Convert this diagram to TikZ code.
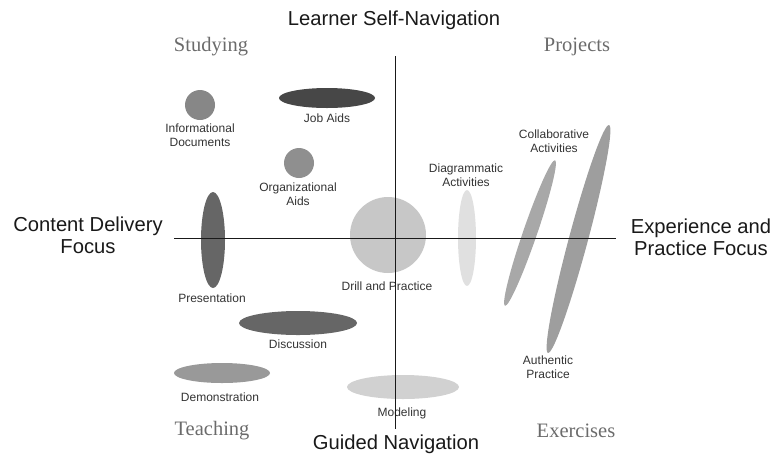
\documentclass[tikz,border=0pt]{standalone}
\usepackage{fontspec}
\setmainfont{Liberation Sans}
\newfontfamily\quadfont{Liberation Serif}

\begin{document}
\begin{tikzpicture}[x=1pt, y=-1pt,
    lbl/.style={font=\fontsize{12}{14}\selectfont, text=black!80, align=center, inner sep=0pt},
    axlbl/.style={font=\fontsize{20.2}{22}\selectfont, text=black!90, align=center, inner sep=0pt},
    quad/.style={font=\quadfont\fontsize{20.5}{22}\selectfont, text=black!58, inner sep=0pt}]
  \useasboundingbox (0,0) rectangle (781,459);
  % shapes
  \fill[black!47] (200,105) circle [radius=15pt];
  \fill[black!72] (327,98) ellipse [x radius=48pt, y radius=10pt];
  \fill[black!44] (299,163) circle [radius=15pt];
  \fill[black!60] (213,240) ellipse [x radius=12pt, y radius=48pt];
  \fill[black!22] (388,235) circle [radius=38pt];
  \fill[black!60] (298,323) ellipse [x radius=59pt, y radius=12pt];
  \fill[black!40] (222,373) ellipse [x radius=48pt, y radius=10pt];
  \fill[black!18] (403,387) ellipse [x radius=56pt, y radius=12pt];
  \fill[black!12] (467,238) ellipse [x radius=9pt, y radius=48pt];
  \fill[black!34, rotate around={71:(530,233)}] (530,233) ellipse [x radius=77pt, y radius=7pt];
  \fill[black!38, rotate around={75:(578.5,239)}] (578.5,239) ellipse [x radius=118pt, y radius=9.5pt];
  % labels
  \node[lbl] (infodoc) at (200,135) {Informational\\Documents};
  \node[lbl] (jobaids) at (327,118) {Job Aids};
  \node[lbl] (orgaids) at (298,194.5) {Organizational\\Aids};
  \node[lbl] (present) at (212,298) {Presentation};
  \node[lbl] (drill) at (387,286) {Drill and Practice};
  \node[lbl] (discuss) at (298,344) {Discussion};
  \node[lbl] (demo) at (220,397) {Demonstration};
  \node[lbl] (model) at (402,413) {Modeling};
  \node[lbl] (diagram) at (466,175) {Diagrammatic\\Activities};
  \node[lbl] (collab) at (554,141) {Collaborative\\Activities};
  \node[lbl] (authentic) at (548,367.5) {Authentic\\Practice};
  % quadrants
  \node[quad] (studying) at (211,47) {Studying};
  \node[quad] (projects) at (577,47) {Projects};
  \node[quad] (teaching) at (212,431) {Teaching};
  \node[quad] (exercises) at (576,431) {Exercises};
  % axis titles
  \node[axlbl] (selfnav) at (394,20) {Learner Self-Navigation};
  \node[axlbl] (guided) at (396,444) {Guided Navigation};
  \node[axlbl] (content) at (88,235.5) {Content Delivery\\Focus};
  \node[axlbl] (experience) at (701,237.5) {Experience and\\Practice Focus};
  % axes
  \coordinate (top) at (395,56);
  \coordinate (bot) at (395,429);
  \coordinate (lft) at (174,238);
  \coordinate (rgt) at (616,238);
  \draw[black!90, line width=0.9pt] (top) -- (bot);
  \draw[black!90, line width=0.9pt] (lft) -- (rgt);
\end{tikzpicture}
\end{document}
